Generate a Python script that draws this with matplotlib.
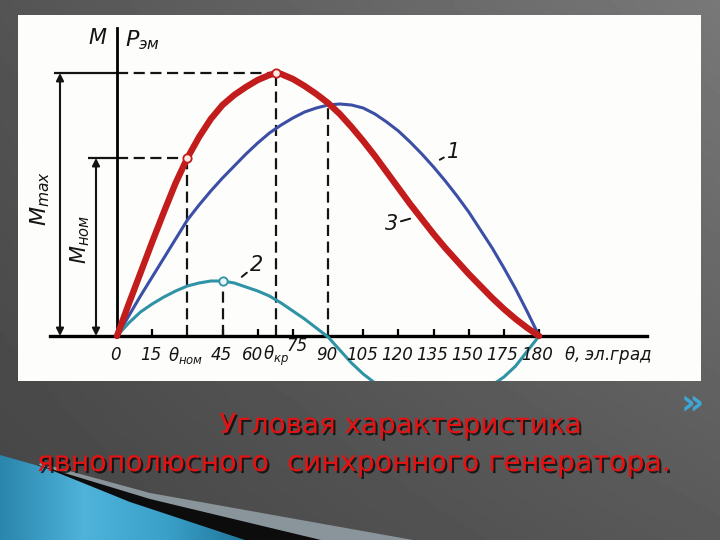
import numpy as np
import matplotlib
matplotlib.use("Agg")
import matplotlib.pyplot as plt
import matplotlib.patheffects as pe
from matplotlib.patches import Polygon
from matplotlib.colors import LinearSegmentedColormap
from matplotlib.transforms import offset_copy

# curve 1 - basic (blue), 2 - reactive (cyan), 3 - total (red)
theta = [0, 5, 10, 15, 20, 25, 30, 35, 40, 45, 50, 55, 60, 65, 70, 75, 80, 85, 90,
         95, 100, 105, 110, 115, 120, 125, 130, 135, 140, 145, 150, 155, 160, 165,
         170, 175, 180]
p_1 = [0, 20, 40, 59, 78, 97, 116, 131, 145, 158, 170, 182, 193, 203, 211, 218, 224,
       228, 231, 232, 231, 228, 222, 214, 205, 194, 182, 169, 155, 140, 124, 106, 88,
       68, 47, 24, 0]
p_2 = [0, 13, 24, 32, 39, 45, 50, 53, 55, 55, 53, 49, 45, 40, 33, 25, 17, 8, -1,
       -14, -27, -38, -47, -53, -58, -61, -63, -63, -62, -60, -57, -53, -49, -41,
       -30, -15, 0]

theta_3 = [0, 5, 10, 15, 20, 25, 30, 35, 40, 45, 50, 55, 60, 65, 68, 70, 75, 80, 85,
           90, 95, 100, 105, 110, 115, 120, 125, 130, 135, 140, 145, 150, 155, 160,
           165, 170, 175, 180]
p_3 = [0, 32, 63, 94, 124, 153, 178, 199, 217, 231, 241, 249, 256, 261, 263, 262,
       257, 250, 242, 233, 222, 209, 195, 180, 164, 148, 132, 117, 102, 88, 75, 62,
       50, 38, 27, 17, 8, 0]

theta_nom, m_nom = 30, 178
theta_kr, m_max = 68, 263
theta_2max, p_2max = 45, 55

tick_pos = [15, 45, 60, 75, 105, 120, 135, 150, 165, 180]
xlab_pos = [0, 15, 30, 45, 90, 105, 120, 135, 150, 165, 180]
xlab_txt = ['0', '15', r'$\theta_{ном}$', '45', '90',
            '105', '120', '135', '150', '175', '180']

title_1 = 'Угловая характеристика'
title_2 = 'явнополюсного  синхронного генератора.'

W, H = 720, 540
fig = plt.figure(figsize=(7.2, 5.4), dpi=100)

# slide background
bg = fig.add_axes([0, 0, 1, 1])
xx, yy = np.meshgrid(np.linspace(0, 1, 200), np.linspace(0, 1, 150))
grad = 0.27 + 0.08 * xx + 0.06 * (1 - yy) + 0.06 * xx * (1 - yy)
bg.imshow(grad, cmap='gray', vmin=0, vmax=1, extent=(0, W, H, 0), aspect='auto', zorder=0)
bg.set_xlim(0, W)
bg.set_ylim(H, 0)
bg.axis('off')

# swoosh in the lower left corner
bg.add_patch(Polygon([(40, 463), (150, 493), (413, 540), (0, 540)], closed=True,
                     facecolor='#8a949b', edgecolor='none', zorder=1))
bg.add_patch(Polygon([(38, 465), (150, 499), (321, 540), (0, 540)], closed=True,
                     facecolor='#0c0c0c', edgecolor='none', zorder=2))
teal = Polygon([(0, 455), (46, 468), (130, 502), (245, 540), (0, 540)], closed=True,
               facecolor='none', edgecolor='none', zorder=3)
bg.add_patch(teal)
tg = np.linspace(0, 1, 100)[None, :] * np.ones((20, 1))
im = bg.imshow(tg, cmap=LinearSegmentedColormap.from_list(
    'tl', ['#2a86ad', '#4fb3da', '#3aa0c8', '#1e7398']),
    extent=(0, 252, 540, 455), aspect='auto', zorder=4)
im.set_clip_path(teal)

# chevron
fig.text(692 / W, 1 - 404 / H, '»', color='#3ea6d8', fontsize=26, fontweight='bold',
         ha='center', va='center', family='DejaVu Sans')

# slide title
shadow = [pe.SimplePatchShadow(offset=(1.5, -1.5), shadow_rgbFace='black', alpha=0.7), pe.Normal()]
fig.text(400 / W, 1 - 433 / H, title_1, color='#e81010', fontsize=20, ha='center',
         va='baseline', path_effects=shadow)
fig.text(355 / W, 1 - 471 / H, title_2, color='#e81010', fontsize=20.5, ha='center',
         va='baseline', path_effects=shadow)

# chart panel (scanned figure)
x0, px_deg, y0 = 117, 2.345, 336
left, right, top, bottom = 18, 701, 15, 381
ax = fig.add_axes([left / W, 1 - bottom / H, (right - left) / W, (bottom - top) / H])
ax.set_facecolor('#fdfdfb')
ax.set_xlim((left - x0) / px_deg, (right - x0) / px_deg)
ax.set_ylim(y0 - bottom, y0 - top)

for s in ['top', 'right']:
    ax.spines[s].set_visible(False)
ax.spines['bottom'].set_position(('data', 0))
ax.spines['left'].set_position(('data', 0))
ax.spines['bottom'].set_bounds((50 - x0) / px_deg, (647 - x0) / px_deg)
ax.spines['left'].set_bounds(0, y0 - 28)
ax.spines['bottom'].set_linewidth(2.4)
ax.spines['left'].set_linewidth(2.0)
ax.set_xticks(tick_pos)
ax.set_yticks([])
ax.tick_params(axis='x', direction='in', length=5, width=1.6, labelbottom=False)

ink = '#141414'
dash = (0, (5, 2.5))

# reference lines
ax.hlines(m_max, (54 - x0) / px_deg, 0, color=ink, lw=1.6)
ax.hlines(m_max, 0, theta_kr, color=ink, lw=1.6, linestyles=[dash])
ax.hlines(m_nom, (88 - x0) / px_deg, 0, color=ink, lw=1.6)
ax.hlines(m_nom, 0, theta_nom, color=ink, lw=1.6, linestyles=[dash])
ax.vlines([theta_nom, theta_kr, 90, theta_2max], 0,
          [m_nom, m_max, np.interp(90, theta_3, p_3), p_2max],
          color=ink, lw=1.6, linestyles=[dash])

# dimension arrows
for xd, top_val in [((60 - x0) / px_deg, m_max), ((96 - x0) / px_deg, m_nom)]:
    ax.annotate('', xy=(xd, 0), xytext=(xd, top_val),
                arrowprops=dict(arrowstyle='<|-|>', color=ink, lw=1.5,
                                mutation_scale=11, shrinkA=0, shrinkB=0))

# curves
ax.plot(theta, p_1, color='#3b4fa6', lw=2.2, solid_capstyle='round',
        solid_joinstyle='round', zorder=3)
ax.plot(theta, p_2, color='#2f93a6', lw=2.2, solid_capstyle='round',
        solid_joinstyle='round', zorder=3)
ax.plot(theta_3, p_3, color='#c21c1c', lw=4.6, solid_capstyle='round',
        solid_joinstyle='round', zorder=4)

mk = dict(marker='o', markersize=6, markerfacecolor='#fde8e8', markeredgewidth=1.3, zorder=5)
ax.plot([theta_nom, theta_kr], [m_nom, m_max], ls='none', markeredgecolor='#c21c1c', **mk)
ax.plot([theta_2max], [p_2max], ls='none', markeredgecolor='#2f93a6',
        **{**mk, 'markerfacecolor': '#e6f6fa'})

# curve numbers
lab = dict(textcoords='offset pixels', fontsize=15, style='italic', color=ink,
           ha='center', va='center',
           arrowprops=dict(arrowstyle='-', color=ink, lw=1.4, shrinkA=0, shrinkB=7))
ax.annotate('1', xy=(134, np.interp(134, theta, p_1)), xytext=(22, 12), **lab)
ax.annotate('2', xy=(50, np.interp(50, theta, p_2)), xytext=(22, 18), **lab)
ax.annotate('3', xy=(129, np.interp(129, theta_3, p_3)), xytext=(-28, -8), **lab)

# axis labels
tf = dict(style='italic', color=ink, fontsize=12)
low = offset_copy(ax.transData, fig=fig, x=-1.5, y=-19, units='dots')
for xp, s in zip(xlab_pos, xlab_txt):
    ax.text(xp, 0, s, transform=low, ha='center', va='center', **tf)
ax.text(60, 0, '60', transform=offset_copy(ax.transData, fig=fig, x=-5, y=-19, units='dots'),
        ha='center', va='center', **tf)
ax.text(theta_kr, 0, r'$\theta_{кр}$',
        transform=offset_copy(ax.transData, fig=fig, x=0, y=-20, units='dots'),
        ha='center', va='center', **tf)
ax.text(75, 0, '75', transform=offset_copy(ax.transData, fig=fig, x=4, y=-10, units='dots'),
        ha='center', va='center', **tf)
ax.text((565 - x0) / px_deg, 0, r'$\theta$, эл.град', transform=low, ha='left',
        va='center', **tf)

ax.text((97 - x0) / px_deg, y0 - 38, 'M', ha='center', va='center', style='italic',
        color=ink, fontsize=15)
ax.text((125 - x0) / px_deg, y0 - 40, r'$P_{эм}$', ha='left', va='center',
        color=ink, fontsize=16)
ax.text((40 - x0) / px_deg, y0 - 198, r'$M_{max}$', rotation=90, ha='center',
        va='center', color=ink, fontsize=16)
ax.text((80 - x0) / px_deg, y0 - 240, r'$M_{ном}$', rotation=90, ha='center',
        va='center', color=ink, fontsize=15)

fig.savefig('out.png', dpi=100)
